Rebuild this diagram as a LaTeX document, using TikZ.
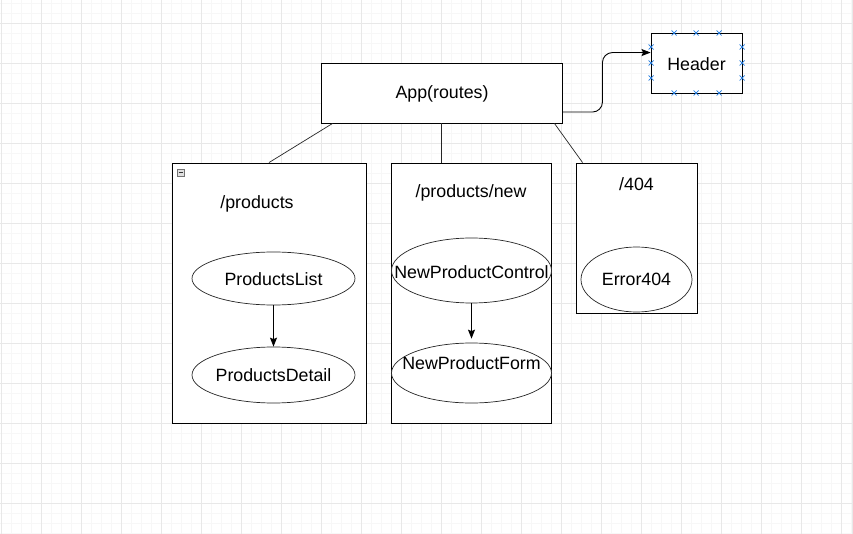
\documentclass[tikz,border=0pt]{standalone}
\usepackage{fontspec}
\setmainfont{Liberation Sans}
\usetikzlibrary{shapes.geometric,arrows.meta,calc}
\definecolor{gridmin}{HTML}{F7F7F7}
\definecolor{gridmaj}{HTML}{E8E8E8}
\definecolor{hblue}{HTML}{1F7AE0}
\tikzset{
  box/.style={draw=black, line width=0.9pt, fill=white, rectangle, inner sep=0pt},
  ell/.style={draw=black!85, line width=0.7pt, fill=white, ellipse, inner sep=0pt},
  lbl/.style={font=\fontsize{17.8}{20}\selectfont, inner sep=0pt, text=black},
  conn/.style={draw=black!85, line width=0.7pt},
  arr/.style={draw=black, line width=0.9pt, -{Stealth[length=9pt,width=7pt,inset=1.5pt]}},
  hx/.style={draw=hblue, line width=0.7pt}
}
\begin{document}
\begin{tikzpicture}[x=1pt,y=-1pt]
\useasboundingbox (0,0) rectangle (853,534);
\fill[white] (0,0) rectangle (853,534);
% grid
\foreach \i in {0,...,85} {\draw[gridmin, line width=0.6pt] (1+10*\i,0) -- (1+10*\i,534);}
\foreach \j in {0,...,53} {\draw[gridmin, line width=0.6pt] (0,3+10*\j) -- (853,3+10*\j);}
\foreach \i in {0,...,21} {\draw[gridmaj, line width=0.9pt] (1+40*\i,0) -- (1+40*\i,534);}
\foreach \j in {0,...,13} {\draw[gridmaj, line width=0.9pt] (0,-17+40*\j) -- (853,-17+40*\j);}
\draw[gridmaj, line width=1pt] (852.5,0) -- (852.5,534);

% main nodes
\node[box, minimum width=241pt, minimum height=60pt] (app) at (441.5,93) {};
\node[lbl] (applbl) at (442,94) {App(routes)};
\node[box, minimum width=91pt, minimum height=60pt] (hdr) at (696.5,63) {};
\node[lbl] (hdrlbl) at (696.5,64) {Header};

\node[box, minimum width=194pt, minimum height=260pt] (prod) at (269,293) {};
\node[box, minimum width=160pt, minimum height=260pt] (new) at (471,293) {};
\node[box, minimum width=121pt, minimum height=150pt] (nf) at (636.5,238) {};

\node[lbl] (prodlbl) at (257,204) {/products};
\node[lbl] (newlbl) at (471,193) {/products/new};
\node[lbl] (nflbl) at (636.5,184) {/404};

% collapse icon
\node[draw=black!55, fill=black!12, line width=0.5pt, minimum size=7pt, inner sep=0pt] (icon) at (180.5,172.5) {};
\draw[black!80, line width=0.8pt] ($(icon.center)+(-2,0)$) -- ($(icon.center)+(2,0)$);

% ellipses
\node[ell, minimum width=163pt, minimum height=53pt] (pl) at (273.5,278.5) {};
\node[lbl] (pllbl) at (273.5,279) {ProductsList};
\node[ell, minimum width=163pt, minimum height=56pt] (pd) at (273.5,375) {};
\node[lbl] (pdlbl) at (273.5,375) {ProductsDetail};
\node[ell, minimum width=160pt, minimum height=65pt] (npc) at (471.5,270.5) {};
\node[lbl] (npclbl) at (471.5,272) {NewProductControl};
\node[ell, minimum width=160pt, minimum height=60pt] (npf) at (471.5,373) {};
\node[lbl] (npflbl) at (471.5,363) {NewProductForm};
\node[ell, minimum width=111pt, minimum height=65pt] (e404) at (636.5,279.5) {};
\node[lbl] (e404lbl) at (636.5,279) {Error404};

% connectors
\draw[conn] ($(app.south west)+(12,0)$) -- (prod.north);
\draw[conn, line width=0.9pt] (app.south) -- (app.south |- new.north);
\draw[conn] ($(app.south east)+(-8,0)$) -- ($(nf.north west)+(7,0)$);

% arrows
\coordinate (hin) at ($(hdr.north west)+(0,20)$);
\draw[arr, rounded corners=10pt] ($(app.north east)+(0,49.5)$) -- ++(40,0) |- (hin);
\draw[arr] (pl.south) -- (pd.north);
\draw[arr] (npc.south) -- ($(npf.north)+(0,-4)$);

% header connection marks
\foreach \x in {674,696,719} {
  \draw[hx] (\x-2.5,30.5) -- (\x+2.5,35.5); \draw[hx] (\x-2.5,35.5) -- (\x+2.5,30.5);
  \draw[hx] (\x-2.5,90.5) -- (\x+2.5,95.5); \draw[hx] (\x-2.5,95.5) -- (\x+2.5,90.5);
}
\foreach \y in {47,63,78} {
  \draw[hx] (648.5,\y-2.5) -- (653.5,\y+2.5); \draw[hx] (648.5,\y+2.5) -- (653.5,\y-2.5);
  \draw[hx] (739.5,\y-2.5) -- (744.5,\y+2.5); \draw[hx] (739.5,\y+2.5) -- (744.5,\y-2.5);
}
\end{tikzpicture}
\end{document}
